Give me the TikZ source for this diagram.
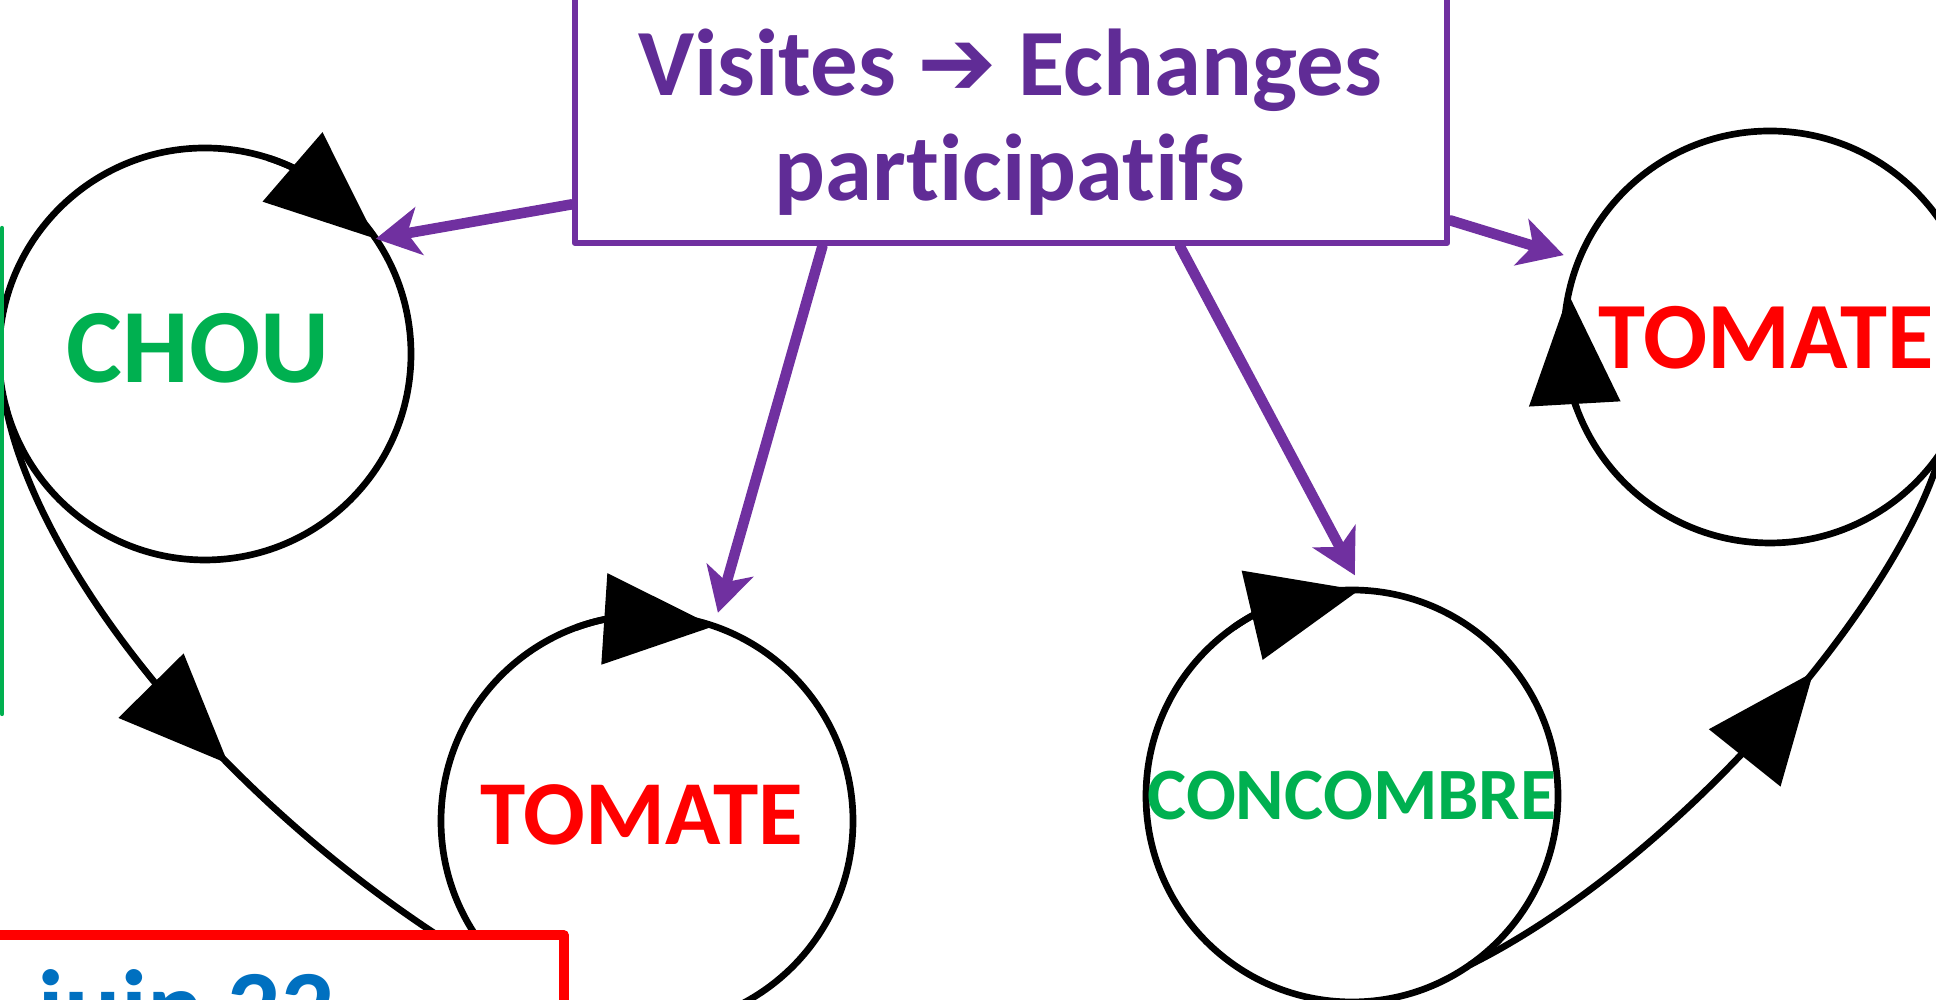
\documentclass[tikz,border=0pt]{standalone}
\usepackage{fontspec}
\setmainfont{Carlito}[Ligatures={NoCommon}]
\newfontfamily\pictos{DejaVu Sans}
\usetikzlibrary{arrows.meta,bending,decorations.markings}

\definecolor{violetvis}{RGB}{112,48,160}
\definecolor{violettxt}{RGB}{96,44,150}
\definecolor{vertchou}{RGB}{0,176,80}
\definecolor{bleudate}{RGB}{0,112,192}

\begin{document}
\begin{tikzpicture}[line cap=round,line join=round,
    ring/.style={circle,draw,line width=1.9pt,minimum size=4.12cm,
      inner sep=0pt,outer sep=0pt},
    veg/.style={font=\bfseries\fontsize{#1}{#1}\selectfont,inner sep=0pt},
    spin/.style={line width=1.9pt,-{Triangle[length=11mm,width=9mm,flex]}},
    route/.style={line width=1.9pt,postaction={decorate},
      decoration={markings,mark=at position #1 with
        {\arrow{Triangle[length=11mm,width=9mm]}}}},
    visit/.style={line width=3pt,draw=violetvis,
      -{Stealth[length=4.4mm,width=4.8mm,inset=1.2mm]}},
    visitbox/.style={draw=violetvis,line width=1.8pt,fill=white,
      minimum width=8.72cm,minimum height=2.48cm,inner sep=0pt},
    datebox/.style={draw=red,line width=2.6pt,fill=white,
      minimum width=7.52cm,minimum height=2.3cm,inner sep=0pt}]
    % Cut-out of the slide.
    \useasboundingbox (0,0) rectangle (19.36,10);
    \clip (0,0) rectangle (19.36,10);

    % The four plots, each turning clockwise.
    \node[ring] (chou) at (2.05,6.46) {};
    \node[ring] (tomA) at (6.47,1.79) {};
    \node[ring] (concombre) at (13.52,2.04) {};
    \node[ring] (tomB) at (17.70,6.63) {};
    \draw[spin] (chou.72) arc[start angle=72,end angle=34,radius=2.06cm];
    \draw[spin] (tomA.110) arc[start angle=110,end angle=71,radius=2.06cm];
    \draw[spin] (concombre.125) arc[start angle=125,end angle=88,radius=2.06cm];
    \draw[spin] (tomB.200) arc[start angle=200,end angle=168,radius=2.06cm];

    \node[veg=30,text=vertchou] (chouname) at (1.98,6.52) {CHOU};
    \node[veg=26,text=red] (tomAname) at (6.42,1.85) {TOMATE};
    \node[veg=21,text=vertchou] (concname) at (13.52,2.04) {CONCOMBRE};
    \node[veg=27,text=red] (tomBname) at (17.66,6.62) {TOMATE};

    % Rotation from one plot to the next.
    \draw[route=.53] (chou.195) .. controls (0.4,4.2) and (2.5,1.6) .. (tomA.235);
    \draw[route=.64] (concombre.305) .. controls (16.8,1.4) and (19.0,4.0) .. (tomB.326);

    % Frames cut by the border.
    \draw[line width=1.2pt,draw=vertchou] (0.02,7.72) -- (0.02,2.86);
    \node[datebox] (datebox) at (1.88,-0.5) {};
    \node[font=\bfseries\fontsize{30}{30}\selectfont,text=bleudate,anchor=base,
      inner sep=0pt] (juin) at (1.86,-0.44) {juin 22};

    % Visits box and its arrows.
    \node[visitbox] (visites) at (10.11,8.81) {};
    \node[font=\bfseries\fontsize{27}{30}\selectfont,text=violettxt,align=center,
      inner sep=0pt] (titre) at (10.10,8.78)
      {Visites {\pictos\bfseries ➔} Echanges\\participatifs};
    \draw[visit] (visites.191) -- (chou.34);
    \draw[visit,shorten >=1.4mm] (visites.214) -- (tomA.71);
    \draw[visit,shorten >=1.7mm] (visites.323) -- (concombre.87);
    \draw[visit,shorten >=1.6mm] (visites.347) -- (tomB.158);
  \end{tikzpicture}
\end{document}
